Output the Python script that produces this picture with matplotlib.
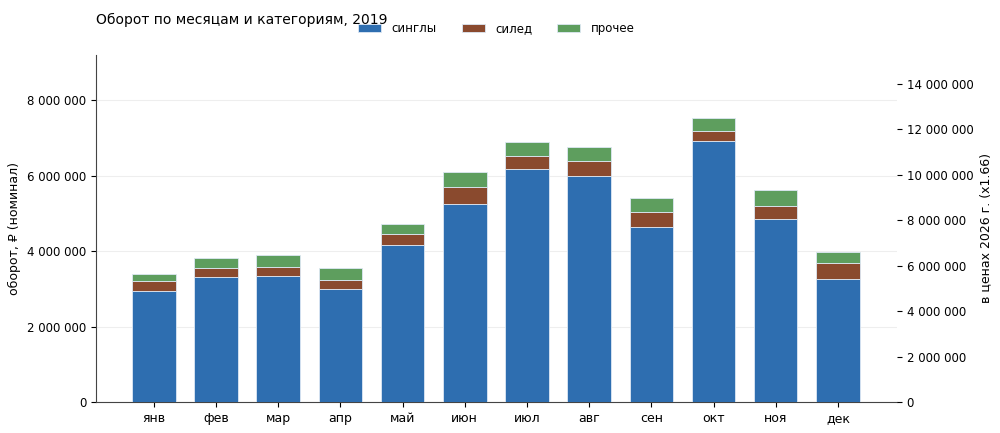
import matplotlib
matplotlib.use("Agg")
import matplotlib.pyplot as plt
import numpy as np
from matplotlib.ticker import FuncFormatter, MultipleLocator

plt.rcParams["font.family"] = ["DejaVu Sans"]

# данные, млн ₽ (номинал)
MONTHS = ["янв", "фев", "мар", "апр", "май", "июн", "июл", "авг", "сен", "окт", "ноя", "дек"]
SINGLES = [2.94, 3.31, 3.34, 2.985, 4.16, 5.26, 6.17, 6.005, 4.65, 6.91, 4.85, 3.26]
SILED = [0.265, 0.23, 0.25, 0.255, 0.29, 0.44, 0.35, 0.375, 0.375, 0.28, 0.35, 0.43]
OTHER = [0.195, 0.28, 0.30, 0.30, 0.27, 0.40, 0.37, 0.37, 0.375, 0.35, 0.42, 0.29]
INFLATION = 1.66

singles = np.array(SINGLES) * 1e6
siled = np.array(SILED) * 1e6
other = np.array(OTHER) * 1e6

C_BLUE = "#2e6eb0"
C_BROWN = "#8a4a2e"
C_GREEN = "#5e9e5e"


def fmt(x, pos):
    return f"{x:,.0f}".replace(",", " ")


fig = plt.figure(figsize=(10, 4.33), dpi=100)
ax = fig.add_axes([0.096, 0.0716, 0.801, 0.8014])

x = np.arange(len(MONTHS))
w = 0.7
kw = dict(width=w, edgecolor="#dde8f4", linewidth=0.6, zorder=3)
ax.bar(x, singles, color=C_BLUE, label="синглы", **kw)
ax.bar(x, siled, bottom=singles, color=C_BROWN, label="силед", **kw)
ax.bar(x, other, bottom=singles + siled, color=C_GREEN, label="прочее", **kw)

ax.set_xlim(-0.93, 11.95)
ax.set_ylim(0, 9.2e6)
ax.set_xticks(x)
ax.set_xticklabels(MONTHS, fontsize=9)
ax.yaxis.set_major_locator(MultipleLocator(2e6))
ax.yaxis.set_major_formatter(FuncFormatter(fmt))
ax.tick_params(axis="y", labelsize=8.5)
ax.set_ylabel("оборот, ₽ (номинал)", fontsize=9)
ax.grid(axis="y", color="#eeeeee", linewidth=0.8, zorder=0)
ax.set_axisbelow(True)
for s in ["top", "right"]:
    ax.spines[s].set_visible(False)
ax.spines["left"].set_color("#444444")
ax.spines["bottom"].set_color("#444444")

# правая ось — в ценах 2026 г.
ax2 = ax.twinx()
ax2.set_ylim(0, 9.2e6 * INFLATION)
ax2.yaxis.set_major_locator(MultipleLocator(2e6))
ax2.yaxis.set_major_formatter(FuncFormatter(fmt))
ax2.tick_params(axis="y", labelsize=8.5)
ax2.set_ylabel(f"в ценах 2026 г. (x{INFLATION})", fontsize=9)
for s in ["top", "right", "left", "bottom"]:
    ax2.spines[s].set_visible(False)

fig.text(0.096, 0.955, "Оборот по месяцам и категориям, 2019", fontsize=10, ha="left", va="center")
ax.legend(loc="upper center", bbox_to_anchor=(0.5, 1.125), ncol=3, frameon=False,
          fontsize=8.5, columnspacing=2.1, handlelength=1.95, handletextpad=0.9)

fig.savefig("out.png", dpi=100)
